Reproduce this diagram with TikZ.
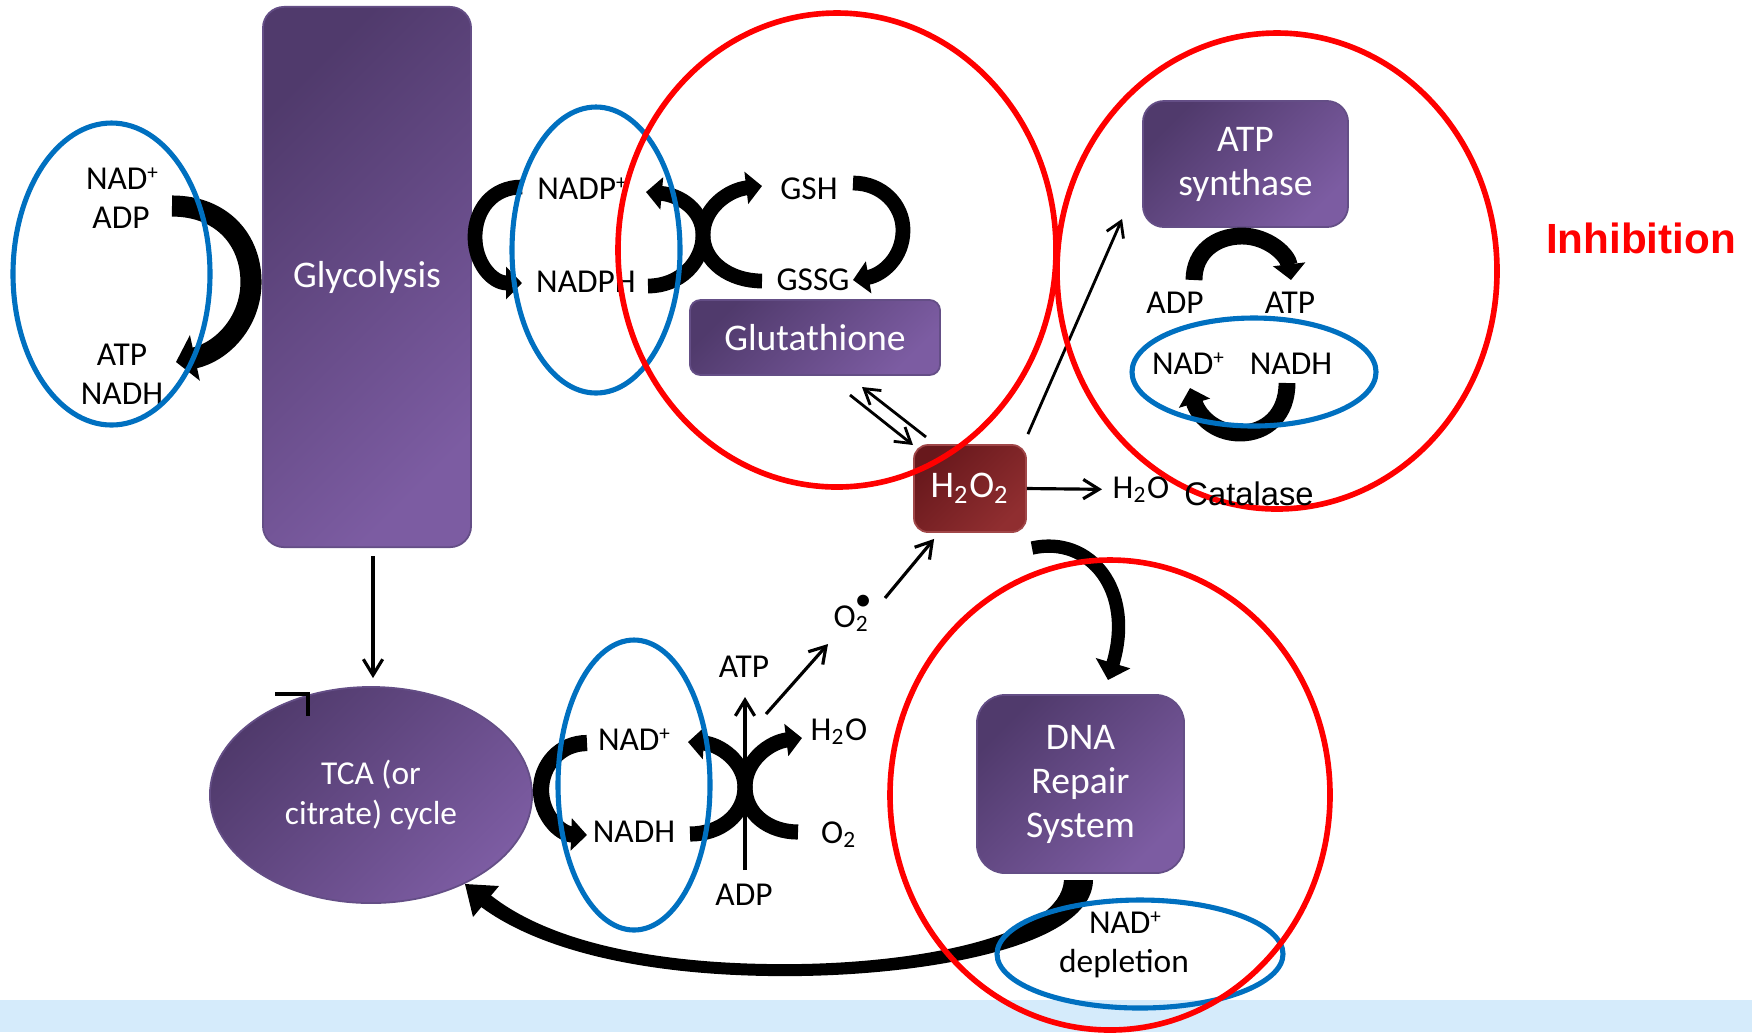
\documentclass[tikz,border=0pt]{standalone}
\usepackage{fontspec}
\setmainfont{Carlito}
\newfontfamily\arialfont{Liberation Sans}
\usetikzlibrary{arrows.meta,shapes.geometric,calc}
\definecolor{pdark}{RGB}{80,58,108}
\definecolor{plight}{RGB}{124,92,162}
\definecolor{pedge}{RGB}{100,78,134}
\definecolor{rdark}{RGB}{104,24,28}
\definecolor{rlight}{RGB}{144,46,48}
\definecolor{redge}{RGB}{160,70,72}
\definecolor{ovblue}{RGB}{0,112,192}
\definecolor{ovred}{RGB}{255,0,0}
\definecolor{band}{RGB}{213,235,251}
\newcommand{\plussup}{\raisebox{0.62ex}{\fontsize{6pt}{6pt}\selectfont +}}
\begin{document}
\begin{tikzpicture}[x=0.01cm,y=-0.01cm,
  purplebox/.style={draw=pedge, line width=0.5pt, top color=pdark, bottom color=plight, shading angle=45,
    text=white, font=\fontsize{10.7pt}{12.5pt}\selectfont, align=center, inner sep=0pt},
  redbox/.style={draw=redge, line width=0.5pt, top color=rdark, bottom color=rlight, shading angle=45,
    text=white, font=\fontsize{10.7pt}{12.5pt}\selectfont, inner sep=0pt},
  lbl/.style={font=\fontsize{9.5pt}{11pt}\selectfont, inner sep=0pt, anchor=base},
  fat/.style={line width=#1, -{Triangle[length=4.5pt,width=9pt]}},
  fat/.default=4.3pt,
  barrow/.style={line width=0.9pt, -{Straight Barb[length=4.5pt,width=5.5pt]}},
  fbarrow/.style={line width=0.8pt, -{Straight Barb[length=4.2pt,width=5.2pt]}},
  blueoval/.style={draw=ovblue, line width=1.45pt},
  redoval/.style={draw=ovred, line width=1.6pt}]
\useasboundingbox (0,0) rectangle (1752,1032);
\fill[white] (0,0) rectangle (1752,1032);
\fill[band] (0,1000) rectangle (1752,1032);

% boxes
\node[purplebox, minimum width=2.08cm, minimum height=5.40cm, rounded corners=6pt] (glyc) at (367,277) {Glycolysis};
\node[purplebox, minimum width=2.50cm, minimum height=0.75cm, rounded corners=3pt] (glut) at (815,337.5) {Glutathione};
\node[purplebox, minimum width=2.05cm, minimum height=1.26cm, rounded corners=6pt] (atps) at (1245.5,164) {ATP\\synthase};
\node[purplebox, minimum width=2.07cm, minimum height=1.78cm, rounded corners=8pt] (dna) at (1080.5,784) {DNA\\Repair\\System};
\node[redbox, minimum width=1.12cm, minimum height=0.87cm, rounded corners=4pt] (h2o2) at (970,488.5) {H\textsubscript{2}O\textsubscript{2}};
\node[purplebox, ellipse, minimum width=3.22cm, minimum height=2.16cm, font=\fontsize{9.5pt}{11.4pt}\selectfont] (tca) at (371,795) {TCA (or\\citrate) cycle};

% labels
\node[lbl] (lnad) at (122,189) {NAD\plussup};
\node[lbl] (ladp) at (121,228) {ADP};
\node[lbl] (latp) at (122,365) {ATP};
\node[lbl] (lnadh) at (122,404) {NADH};
\node[lbl] (nadp) at (582,199) {NADP\plussup};
\node[lbl] (nadph) at (586,292) {NADPH};
\node[lbl] (gsh) at (809,199) {GSH};
\node[lbl] (gssg) at (813,290) {GSSG};
\node[lbl] (aadp) at (1175,313) {ADP};
\node[lbl] (aatp) at (1290,313) {ATP};
\node[lbl] (anad) at (1188,374) {NAD\plussup};
\node[lbl] (anadh) at (1291,374) {NADH};
\node[lbl] (h2o) at (1141,498) {H\textsubscript{2}O};
\node[lbl] (tnad) at (634,750) {NAD\plussup};
\node[lbl] (tnadh) at (634,842) {NADH};
\node[lbl] (atp2) at (744,677) {ATP};
\node[lbl] (adp2) at (744,905) {ADP};
\node[lbl] (h2ob) at (839,740) {H\textsubscript{2}O};
\node[lbl] (o2) at (839,843) {O\textsubscript{2}};
\node[lbl, anchor=base west] (o2r) at (833,627) {O\textsubscript{2}\llap{\raisebox{4.6pt}{\textbullet}\kern-0.6pt}};
\node[lbl] (dnad) at (1125,933) {NAD\plussup};
\node[lbl] (depl) at (1124,972) {depletion};
\node[lbl, font=\arialfont\bfseries\fontsize{12pt}{14pt}\selectfont, text=ovred] (inhib) at (1641,253) {Inhibition};

% thick curved arrows
\draw[line width=6pt, -{Triangle[length=5.5pt,width=13pt]}] (172,206) .. controls (222,206) and (251,240) .. (251,282) .. controls (251,322) and (222,352) .. (176,362);
\draw[fat=4.2pt] (522,187) .. controls (492,187) and (475,210) .. (475,237) .. controls (475,263) and (492,283) .. (522,283);
\draw[fat=4.2pt] (648,286) .. controls (680,286) and (703,262) .. (703,235) .. controls (703,208) and (728,190) .. (762,186);
\draw[fat=4.2pt] (762,281) .. controls (730,281) and (703,262) .. (703,235) .. controls (703,210) and (680,195) .. (646,192);
\draw[fat=4.2pt] (853,183) .. controls (882,183) and (903,205) .. (903,230) .. controls (903,258) and (882,275) .. (853,280);
\draw[fat=4.6pt] (587,743) .. controls (560,743) and (541,765) .. (541,790) .. controls (541,815) and (560,834) .. (587,835);
\draw[fat=4.3pt] (690,834) .. controls (720,834) and (745,815) .. (745,787) .. controls (745,760) and (770,742) .. (802,738);
\draw[fat=4.3pt] (798,832) .. controls (770,832) and (745,815) .. (745,787) .. controls (745,762) and (720,744) .. (688,742);
\draw[fat=4.8pt] (1194,280) .. controls (1194,252) and (1216,236) .. (1242,236) .. controls (1268,236) and (1288,255) .. (1291,280);
\draw[fat=4.8pt] (1287,383) .. controls (1287,415) and (1266,433) .. (1240,433) .. controls (1214,433) and (1198,415) .. (1190,388);
\draw[line width=3.8pt, -{Triangle[length=5pt,width=10pt]}] (1032,548) .. controls (1090,535) and (1135,590) .. (1108,680);
% tapered DNA -> TCA arrow
\fill (1064,880) .. controls (1061,935) and (925,962) .. (800,964) .. controls (652,966) and (545,940) .. (488,893)
  -- (476,903) .. controls (535,950) and (648,978) .. (800,976) .. controls (935,974) and (1092,945) .. (1093,880) -- cycle;
\fill (465,884) -- (499,886) -- (473,917) -- cycle;

% thin arrows
\draw[barrow] ($(glyc.south)+(6,8)$) -- ($(tca.north)+(2,-8)$);
\draw[barrow] (h2o2.east) -- ($(h2o.west)+(-10,0)$);
\draw[fbarrow] ($(h2o2.north east)+(1,-10)$) -- ($(atps.south west)+(-20,-9)$);
\draw[barrow] (745,870) -- (745,697);
\draw[barrow] (766,714) -- (828,644);
\draw[barrow] (885,598) -- ($(h2o2.south west)+(21,6)$);
\draw[fbarrow] (926,437) -- (862,387);
\draw[fbarrow] (850,395) -- (913,445);
\draw[line width=0.9pt] (275,694) -- (308,694) -- (308,716);

% ovals
\draw[blueoval] (111.5,274) ellipse [x radius=98.5, y radius=151];
\draw[blueoval] (596,250) ellipse [x radius=84, y radius=143];
\draw[blueoval] (634,785) ellipse [x radius=76, y radius=145];
\draw[blueoval] (1254,372) ellipse [x radius=122, y radius=54];
\draw[blueoval] (1140,954) ellipse [x radius=143, y radius=54];
\draw[redoval] (837,250) ellipse [x radius=219, y radius=237];
\draw[redoval] (1277,271) ellipse [x radius=220, y radius=238];
\draw[redoval] (1110,795) ellipse [x radius=220, y radius=235];

% text drawn over the red oval
\node[lbl, font=\arialfont\fontsize{9.3pt}{11pt}\selectfont] (catal) at (1249,505) {Catalase};
\end{tikzpicture}
\end{document}
